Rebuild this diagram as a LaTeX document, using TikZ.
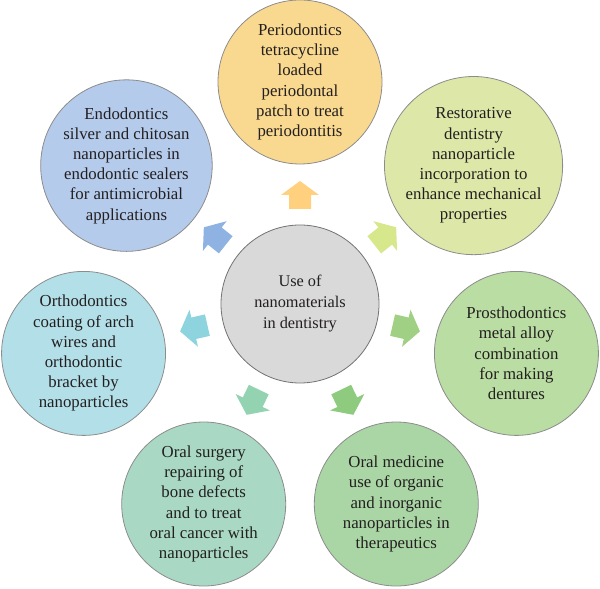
\documentclass[tikz,border=0pt]{standalone}
\usepackage{fontspec}
\setmainfont{Liberation Serif}
\usetikzlibrary{calc}
\definecolor{txt}{HTML}{231F20}
\definecolor{cperi}{HTML}{F9D98F}
\definecolor{aperi}{HTML}{FFD07E}
\definecolor{crest}{HTML}{DDE8A8}
\definecolor{arest}{HTML}{D6E78C}
\definecolor{cpros}{HTML}{B9DDA2}
\definecolor{apros}{HTML}{9FD083}
\definecolor{cmed}{HTML}{AAD6A5}
\definecolor{amed}{HTML}{8FCB7E}
\definecolor{csurg}{HTML}{A9D9C4}
\definecolor{asurg}{HTML}{93D3B2}
\definecolor{corth}{HTML}{B3E0E8}
\definecolor{aorth}{HTML}{8ED4DF}
\definecolor{cendo}{HTML}{B5CBEB}
\definecolor{aendo}{HTML}{8EB3E3}
\definecolor{ccen}{HTML}{D9D9D9}
\tikzset{
  bubble/.style={circle, draw=black!45, line width=0.8pt, minimum size=164pt, inner sep=0pt,
    align=center, text=txt, font=\fontsize{16.8}{20.2}\selectfont},
  hub/.style={bubble, minimum size=158pt, fill=ccen, draw=black!55, font=\fontsize{16.3}{21}\selectfont}
}
\newcommand{\blockarr}[2]{%
  \fill[#2, shift={(center.center)}, rotate=#1]
    (95,-11) -- (109,-11) -- (109,-19) -- (123,0) -- (109,19) -- (109,11) -- (95,11) -- cycle;}
\begin{document}
\begin{tikzpicture}[x=1pt,y=1pt]
\useasboundingbox (0,0) rectangle (600,589);
\node[hub] (center) at (300,285) {Use of\\nanomaterials\\in dentistry};
\node[bubble, fill=cperi] (peri) at ($(center)+(90:222)$) {Periodontics\\tetracycline\\loaded\\periodontal\\patch to treat\\periodontitis};
\node[bubble, fill=crest] (rest) at ($(center)+(38.57:222)$) {Restorative\\dentistry\\nanoparticle\\incorporation to\\enhance mechanical\\properties};
\node[bubble, fill=cpros] (pros) at ($(center)+(-12.86:222)$) {Prosthodontics\\metal alloy\\combination\\for making\\dentures};
\node[bubble, fill=cmed] (med) at ($(center)+(-64.29:222)$) {Oral medicine\\use of organic\\and inorganic\\nanoparticles in\\therapeutics};
\node[bubble, fill=csurg] (surg) at ($(center)+(-115.71:222)$) {Oral surgery\\repairing of\\bone defects\\and to treat\\oral cancer with\\nanoparticles};
\node[bubble, fill=corth] (orth) at ($(center)+(-167.14:222)$) {Orthodontics\\coating of arch\\wires and\\orthodontic\\bracket by\\nanoparticles};
\node[bubble, fill=cendo] (endo) at ($(center)+(141.43:222)$) {Endodontics\\silver and chitosan\\nanoparticles in\\endodontic sealers\\for antimicrobial\\applications};
\blockarr{90}{aperi}
\blockarr{38.57}{arest}
\blockarr{-12.86}{apros}
\blockarr{-64.29}{amed}
\blockarr{-115.71}{asurg}
\blockarr{-167.14}{aorth}
\blockarr{141.43}{aendo}
\end{tikzpicture}
\end{document}
